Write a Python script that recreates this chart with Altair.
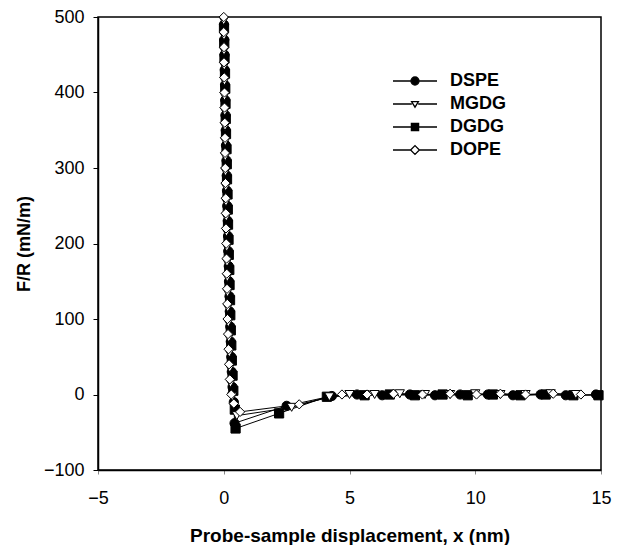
import altair as alt
import pandas as pd

series_names = ["DSPE", "MGDG", "DGDG", "DOPE"]
shape_marks = ["circle", "triangle-down", "square", "diamond"]
fill_colors = ["black", "white", "black", "white"]
x_ticks = [-5, 0, 5, 10, 15]
y_ticks = [-100, 0, 100, 200, 300, 400, 500]

dspe_x = [0.01, 0.02, 0.03, 0.04, 0.05, 0.06, 0.07, 0.08, 0.09, 0.11, 0.12, 0.13, 0.14, 0.16, 0.17,
          0.18, 0.20, 0.21, 0.23, 0.24, 0.26, 0.28, 0.30, 0.32, 0.35, 0.40, 0.43,
          2.5, 4.3, 5.3, 6.3, 7.4, 8.4, 9.4, 10.5, 11.5, 12.6, 13.6, 14.8]
dspe_y = [490, 470, 450, 430, 410, 390, 370, 350, 330, 310, 290, 270, 250, 230, 210,
          190, 170, 150, 130, 110, 90, 70, 50, 30, 10, -10, -38,
          -15, -2, 0, -1, 0, -1, 0, 0, -1, 0, -1, 0]

mgdg_x = [0.00, 0.01, 0.01, 0.02, 0.03, 0.03, 0.04, 0.05, 0.06, 0.06, 0.07, 0.08, 0.09, 0.10, 0.11,
          0.12, 0.13, 0.14, 0.15, 0.16, 0.18, 0.20, 0.22, 0.24, 0.27, 0.34, 0.52,
          2.7, 4.2, 5.0, 6.0, 7.0, 8.0, 9.0, 10.0, 11.0, 12.0, 13.0, 14.0]
mgdg_y = [495, 475, 455, 435, 415, 395, 375, 355, 335, 315, 295, 275, 255, 235, 215,
          195, 175, 155, 135, 115, 95, 75, 55, 35, 15, -3, -28,
          -17, -3, 0, 0, 1, 0, 0, 1, 0, 0, 1, 0]

dgdg_x = [0.01, 0.02, 0.03, 0.05, 0.06, 0.07, 0.08, 0.09, 0.11, 0.12, 0.13, 0.15, 0.16, 0.17, 0.19,
          0.20, 0.22, 0.23, 0.25, 0.26, 0.28, 0.30, 0.32, 0.35, 0.38, 0.44, 0.47,
          2.2, 4.1, 5.6, 6.6, 7.6, 8.7, 9.7, 10.7, 11.8, 12.8, 13.9, 14.9]
dgdg_y = [485, 465, 445, 425, 405, 385, 365, 345, 325, 305, 285, 265, 245, 225, 205,
          185, 165, 145, 125, 105, 85, 65, 45, 25, 5, -20, -45,
          -25, -3, -1, 0, -1, 0, -1, 0, -1, 0, -1, -1]

dope_x = [0.00, 0.00, 0.01, 0.01, 0.02, 0.03, 0.03, 0.04, 0.05, 0.05, 0.06, 0.07, 0.08, 0.08, 0.09,
          0.10, 0.11, 0.12, 0.13, 0.14, 0.15, 0.17, 0.19, 0.21, 0.24, 0.30, 0.40, 0.65,
          3.0, 4.7, 5.7, 6.75, 7.9, 9.0, 10.05, 11.0, 12.0, 13.1, 14.2]
dope_y = [500, 480, 460, 440, 420, 400, 380, 360, 340, 320, 300, 280, 260, 240, 220,
          200, 180, 160, 140, 120, 100, 80, 60, 40, 20, 0, -12, -23,
          -13, 0, 0, 1, 0, 1, 0, 1, 0, 1, 0]

# legend symbols: marker with a line segment through it
legend_paths = [
    "M-5.5,0H-1M1,0H5.5M-1,0A1,1,0,1,0,1,0A1,1,0,1,0,-1,0Z",
    "M-5.5,0H-0.8M0.8,0H5.5M-0.85,-0.6L0.85,-0.6L0,0.8Z",
    "M-5.5,0H-0.9M0.9,0H5.5M-0.9,-0.9H0.9V0.9H-0.9Z",
    "M-5.5,0H-1.1M1.1,0H5.5M-1.1,0L0,-1.1L1.1,0L0,1.1Z",
]

rows = []
for name, xs, ys in [("DSPE", dspe_x, dspe_y), ("DGDG", dgdg_x, dgdg_y),
                     ("MGDG", mgdg_x, mgdg_y), ("DOPE", dope_x, dope_y)]:
    for i, (xv, yv) in enumerate(zip(xs, ys)):
        rows.append({"series": name, "x": xv, "y": yv, "i": i})
df = pd.DataFrame(rows)

FONT = "Liberation Sans"

x_enc = alt.X("x:Q", scale=alt.Scale(domain=[-5, 15], nice=False),
              axis=alt.Axis(values=x_ticks, title="Probe-sample displacement, x (nm)",
                            tickSize=4, tickColor="#888888", labelPadding=15, titlePadding=19,
                            titleFontSize=19, labelFlush=False))
y_enc = alt.Y("y:Q", scale=alt.Scale(domain=[-100, 500], nice=False),
              axis=alt.Axis(values=y_ticks, title="F/R (mN/m)", tickSize=5,
                            labelPadding=9, titlePadding=10, labelFlush=False))

base = alt.Chart(df)

lines = base.mark_line(color="black", strokeWidth=1).encode(
    x=x_enc, y=y_enc, detail="series:N", order="i:Q")

points = base.mark_point(filled=True, stroke="black", strokeWidth=1, size=85, opacity=1).encode(
    x=x_enc, y=y_enc,
    shape=alt.Shape("series:N", scale=alt.Scale(domain=series_names, range=shape_marks), legend=None),
    fill=alt.Fill("series:N", scale=alt.Scale(domain=series_names, range=fill_colors), legend=None),
)

leg = alt.Legend(title=None, orient="none", legendX=308, legendY=55, labelFontSize=18,
                 labelFontWeight="bold", labelFont=FONT, labelColor="black",
                 symbolSize=64, labelOffset=26, rowPadding=5, padding=0,
                 symbolStrokeColor="black", symbolStrokeWidth=1.3)

legend_layer = base.transform_filter(alt.datum.x > 1000).mark_point(
    filled=True, strokeWidth=1.3, size=64, opacity=1).encode(
    x=x_enc, y=y_enc,
    shape=alt.Shape("series:N", scale=alt.Scale(domain=series_names, range=legend_paths), legend=leg),
    fill=alt.Fill("series:N", scale=alt.Scale(domain=series_names, range=fill_colors), legend=leg),
    stroke=alt.Stroke("series:N", scale=alt.Scale(domain=series_names, range=["black"] * 4), legend=leg),
)

chart = alt.layer(lines, points, legend_layer).resolve_scale(
    shape="independent", fill="independent", stroke="independent"
).properties(
    width=503, height=453,
    autosize=alt.AutoSizeParams(type="none"),
    padding={"left": 90, "top": 9, "right": 18, "bottom": 76},
).configure_view(
    stroke="black", strokeWidth=1.5
).configure_axis(
    grid=False, labelFont=FONT, titleFont=FONT, labelFontSize=18, titleFontSize=18,
    titleFontWeight="bold", labelColor="black", titleColor="black",
    domainColor="black", domainWidth=1.5, tickColor="black",
)

chart.save("out.html", embed_options={"renderer": "svg", "actions": False})
